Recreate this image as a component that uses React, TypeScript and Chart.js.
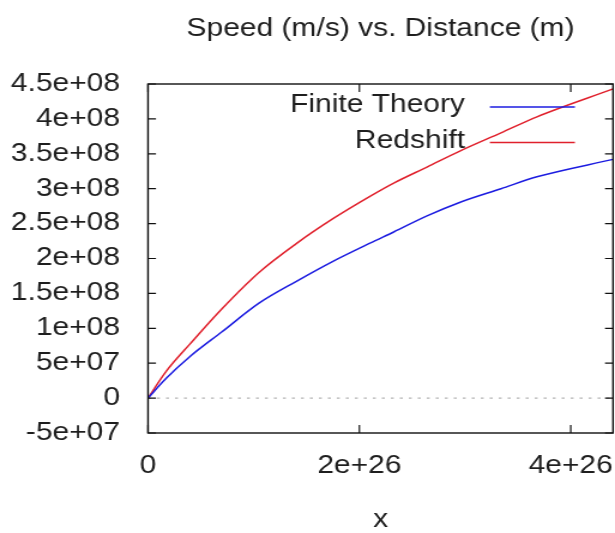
import React, { useEffect, useRef } from 'react';
import { Chart, registerables } from 'chart.js';

Chart.register(...registerables);

// ---- data ----
const distance = [0, 1.7e25, 4.0e25, 7.0e25, 1.05e26, 1.4e26, 1.75e26, 2.1e26, 2.325e26, 2.64e26, 2.96e26, 3.34e26, 3.68e26, 4.4e26];
const finiteTheory = [0, 2.8e7, 6.0e7, 9.5e7, 1.36e8, 1.67e8, 1.96e8, 2.22e8, 2.38e8, 2.61e8, 2.81e8, 3.0e8, 3.17e8, 3.42e8];
const redshift = [0, 3.8e7, 7.8e7, 1.28e8, 1.8e8, 2.21e8, 2.57e8, 2.89e8, 3.08e8, 3.31e8, 3.545e8, 3.8e8, 4.03e8, 4.43e8];
const seriesLabels = ['Finite Theory', 'Redshift'];
const xTicks = [0, 2e26, 4e26];
const xTickLabels = ['0', '2e+26', '4e+26'];
const yTicks = [-5e7, 0, 5e7, 1e8, 1.5e8, 2e8, 2.5e8, 3e8, 3.5e8, 4e8, 4.5e8];
const yTickLabels = ['-5e+07', '0', '5e+07', '1e+08', '1.5e+08', '2e+08', '2.5e+08', '3e+08', '3.5e+08', '4e+08', '4.5e+08'];

// ---- layout (css px) ----
const CSS_W = 615;
const CSS_H = 533;
const INT_W = 513; // canvas is drawn narrower and stretched horizontally
const SX = CSS_W / INT_W;
const FONT = "'Liberation Sans', Arial, Helvetica, sans-serif";
const TEXT = '#1e1e1e';

const framePlugin = {
  id: 'gnuFrame',
  beforeDatasetsDraw(chart: any) {
    const { ctx, chartArea: a, scales } = chart;
    const y0 = scales.y.getPixelForValue(0);
    ctx.save();
    ctx.strokeStyle = '#a0a0a0';
    ctx.lineWidth = 1;
    ctx.setLineDash([2.5, 5]);
    ctx.beginPath();
    ctx.moveTo(a.left, y0);
    ctx.lineTo(a.right, y0);
    ctx.stroke();
    ctx.restore();
  },
  afterDatasetsDraw(chart: any) {
    const { ctx, chartArea: a, scales } = chart;
    ctx.save();
    ctx.strokeStyle = '#111';
    ctx.lineWidth = 1.4;
    ctx.strokeRect(a.left, a.top, a.right - a.left, a.bottom - a.top);
    ctx.lineWidth = 1.2;
    ctx.beginPath();
    const tx = 8 / SX;
    const ty = 8;
    yTicks.forEach((v) => {
      const p = scales.y.getPixelForValue(v);
      ctx.moveTo(a.left, p);
      ctx.lineTo(a.left + tx, p);
      ctx.moveTo(a.right, p);
      ctx.lineTo(a.right - tx, p);
    });
    xTicks.forEach((v) => {
      const p = scales.x.getPixelForValue(v);
      ctx.moveTo(p, a.bottom);
      ctx.lineTo(p, a.bottom - ty);
      ctx.moveTo(p, a.top);
      ctx.lineTo(p, a.top + ty);
    });
    ctx.stroke();
    ctx.restore();
  },
  afterDraw(chart: any) {
    const { ctx, chartArea: a } = chart;
    ctx.save();
    ctx.font = `25px ${FONT}`;
    ctx.textAlign = 'right';
    ctx.textBaseline = 'middle';
    chart.data.datasets.forEach((ds: any, i: number) => {
      const ty = a.top + 21.5 + i * 35.5;
      const ly = a.top + 23 + i * 35.5;
      ctx.fillStyle = TEXT;
      ctx.fillText(ds.label, a.right - 123.5, ty);
      ctx.strokeStyle = ds.borderColor;
      ctx.lineWidth = 1.6;
      ctx.beginPath();
      ctx.moveTo(a.right - 102.7, ly);
      ctx.lineTo(a.right - 31.8, ly);
      ctx.stroke();
    });
    ctx.restore();
  },
};

export default function App() {
  const canvasRef = useRef<HTMLCanvasElement | null>(null);

  useEffect(() => {
    const canvas = canvasRef.current;
    if (!canvas) return;
    const chart = new Chart(canvas, {
      type: 'line',
      data: {
        datasets: [
          {
            label: seriesLabels[0],
            data: distance.map((x, i) => ({ x, y: finiteTheory[i] })),
            borderColor: '#1c1ce0',
            borderWidth: 1.5,
            pointRadius: 0,
            cubicInterpolationMode: 'monotone',
            fill: false,
          },
          {
            label: seriesLabels[1],
            data: distance.map((x, i) => ({ x, y: redshift[i] })),
            borderColor: '#e0202c',
            borderWidth: 1.5,
            pointRadius: 0,
            cubicInterpolationMode: 'monotone',
            fill: false,
          },
        ],
      },
      options: {
        responsive: false,
        animation: false,
        devicePixelRatio: 1,
        layout: { padding: { left: 0, right: 2 / SX, top: 0, bottom: 0 } },
        font: { family: FONT },
        plugins: {
          legend: { display: false },
          tooltip: { enabled: false },
          title: {
            display: true,
            text: 'Speed (m/s) vs. Distance (m)',
            color: TEXT,
            fullSize: false,
            font: { family: FONT, size: 25, weight: 'normal', lineHeight: 1.2 },
            padding: { top: 14, bottom: 40 },
          },
        },
        scales: {
          x: {
            type: 'linear',
            min: 0,
            max: 4.4e26,
            grid: { display: false, drawTicks: false, tickLength: 0 },
            border: { display: false },
            afterBuildTicks: (scale: any) => {
              scale.ticks = xTicks.map((v) => ({ value: v }));
            },
            afterFit: (scale: any) => {
              scale.height = 100;
              scale.paddingLeft = 0;
              scale.paddingRight = 0;
            },
            ticks: {
              autoSkip: false,
              maxRotation: 0,
              minRotation: 0,
              padding: 18,
              color: TEXT,
              font: { family: FONT, size: 25, lineHeight: 1.2 },
              callback: (_v: any, i: number) => xTickLabels[i],
            },
            title: {
              display: true,
              text: 'x',
              color: TEXT,
              font: { family: FONT, size: 25, lineHeight: 1 },
              padding: 0,
            },
          },
          y: {
            type: 'linear',
            min: -5e7,
            max: 4.5e8,
            grid: { display: false, drawTicks: false, tickLength: 0 },
            border: { display: false },
            afterBuildTicks: (scale: any) => {
              scale.ticks = yTicks.map((v) => ({ value: v }));
            },
            afterFit: (scale: any) => {
              scale.width = 148 / SX;
            },
            ticks: {
              autoSkip: false,
              padding: 28 / SX,
              color: TEXT,
              font: { family: FONT, size: 25, lineHeight: 1.2 },
              callback: (_v: any, i: number) => yTickLabels[i],
            },
          },
        },
      },
      plugins: [framePlugin],
    } as any);
    return () => chart.destroy();
  }, []);

  return (
    <div style={{ position: 'absolute', left: 0, top: 0, width: CSS_W, height: CSS_H, background: '#fff' }}>
      <canvas
        ref={canvasRef}
        width={INT_W}
        height={CSS_H}
        style={{ display: 'block', width: `${CSS_W}px`, height: `${CSS_H}px` }}
      />
    </div>
  );
}
